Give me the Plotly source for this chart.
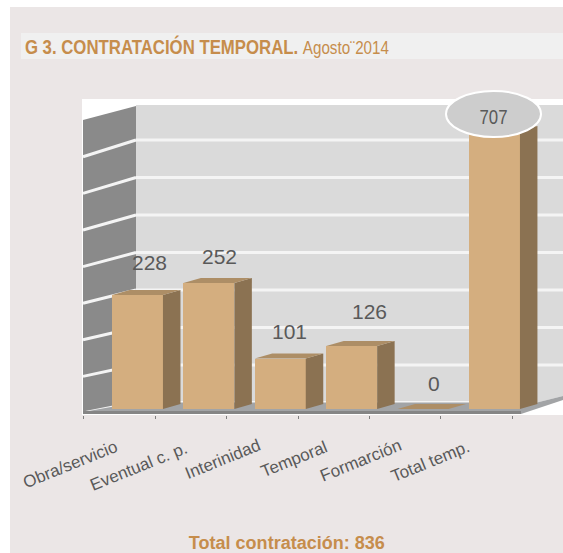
import json
import plotly.graph_objects as go

# ---- data
categories = ["Obra/servicio", "Eventual c. p.", "Interinidad", "Temporal", "Formarción", "Total temp."]
values = [228, 252, 101, 126, 0, 707]
total = 836
title_bold = "G 3. CONTRATACIÓN TEMPORAL."
title_light = "Agosto¨2014"
footer = f"Total contratación: {total}"
grid_values = [0, 75, 150, 225, 300, 375, 450, 525]

# ---- layout constants
W, H = 563, 553
PL, PR, PT, PB = 82, 563, 99, 415          # plot area in page pixels
X_RANGE = [-0.777, 5.96]
Y_RANGE = [-12, 620]
CAP = 556            # the source chart breaks the tallest bar behind its oval
BAR_W = 0.714
DEPTH_X, DEPTH_Y = 0.245, 10
label_dx = [12, 11, 9, 18, 11, -1]
label_dy = [33, 27, 27, 35, 26, 0]
cat_dx = [-67, -70, -58, -58, -62, -64]
cat_py = [464, 466, 459, 459, 461, 462]

BG, BAND = "#ebe6e6", "#f0f0f0"
GOLD, GREY = "#c68d4c", "#595959"
FRONT, SIDE, TOP = "#d4ae7f", "#8b7252", "#ad8e66"
WALL_L, WALL_B, FLOOR, EDGE, GRID = "#8a8a8a", "#dadada", "#a2a4a6", "#858585", "#f4f4f4"
SANS = "Liberation Sans"


def px(x):
    return (x - PL) / (PR - PL)


def py(y):
    return (PB - y) / (PB - PT)


def dx(x):
    return X_RANGE[0] + (x - PL) / (PR - PL) * (X_RANGE[1] - X_RANGE[0])


def dy(y):
    return Y_RANGE[0] + (PB - y) / (PB - PT) * (Y_RANGE[1] - Y_RANGE[0])


def poly(points):
    return "M" + " L".join(f"{a},{b}" for a, b in points) + " Z"


shapes = [
    dict(type="rect", xref="paper", yref="paper", x0=px(0), x1=px(W), y0=py(0), y1=py(H),
         fillcolor="white", line_width=0, layer="below"),
    dict(type="rect", xref="paper", yref="paper", x0=px(10), x1=px(W), y0=py(7), y1=py(H),
         fillcolor=BG, line_width=0, layer="below"),
    dict(type="rect", xref="paper", yref="paper", x0=px(21), x1=px(W), y0=py(33), y1=py(59),
         fillcolor=BAND, line_width=0, layer="below"),
    dict(type="rect", xref="paper", yref="paper", x0=px(PL), x1=px(PR), y0=py(PT), y1=py(PB),
         fillcolor="white", line_width=0, layer="below"),
]

# chamber: back wall, left wall, floor
wall_x_front, wall_x_back = dx(83), dx(136)
wall_x_corner = dx(537)
back_floor, back_top = dy(402.5), dy(105)
front_floor, left_top_front, left_top_back = dy(412), dy(120), dy(106)
shapes += [
    dict(type="path", path=poly([(wall_x_back, back_floor), (wall_x_corner, back_floor), (X_RANGE[1], dy(396)),
                                 (X_RANGE[1], back_top), (wall_x_back, back_top)]),
         fillcolor=WALL_B, line_width=0, layer="below"),
    dict(type="path", path=poly([(wall_x_front, front_floor), (wall_x_back, back_floor),
                                 (wall_x_back, left_top_back), (wall_x_front, left_top_front)]),
         fillcolor=WALL_L, line_width=0, layer="below"),
]
back_unit = dy(402.5)
for k, g in enumerate(grid_values):
    yb = back_unit + g
    yf = dy(413 - 36.6 * k)
    shapes.append(dict(type="line", x0=wall_x_back, x1=X_RANGE[1] if k else wall_x_corner, y0=yb, y1=yb,
                       line=dict(color=GRID, width=3), layer="below"))
    shapes.append(dict(type="line", x0=wall_x_front, x1=wall_x_back, y0=yf, y1=yb,
                       line=dict(color=GRID, width=3), layer="below"))
shapes += [
    dict(type="path", path=poly([(wall_x_front, front_floor), (wall_x_back, back_floor), (wall_x_corner, back_floor),
                                 (X_RANGE[1], dy(396)), (X_RANGE[1], dy(400)), (dx(521), dy(414)),
                                 (wall_x_front, dy(414))]),
         fillcolor=FLOOR, line_width=0, layer="below"),
    dict(type="path", path=poly([(wall_x_front, dy(411)), (dx(521), dy(411)), (dx(521), dy(414)),
                                 (wall_x_front, dy(414))]),
         fillcolor=EDGE, line_width=0, layer="below"),
]

# oval that hides the top of the broken bar
shapes.append(dict(type="circle", xref="paper", yref="paper", x0=px(446), x1=px(541), y0=py(137), y1=py(91),
                   fillcolor="#cdcdcd", line=dict(color="white", width=2), layer="above"))

fig = go.Figure()
positions = list(range(len(categories)))
heights = [min(v, CAP) for v in values]

fig.add_trace(go.Bar(x=positions, y=heights, width=BAR_W, marker=dict(color=FRONT, line_width=0),
                     hoverinfo="skip", showlegend=False))

for i, h in zip(positions, heights):
    xl, xr = i - BAR_W / 2, i + BAR_W / 2
    fig.add_trace(go.Scatter(x=[xr, xr + DEPTH_X, xr + DEPTH_X, xr, xr],
                             y=[0, DEPTH_Y, h + DEPTH_Y, h, 0], mode="lines", fill="toself",
                             fillcolor=SIDE, line=dict(width=0), hoverinfo="skip", showlegend=False))
    fig.add_trace(go.Scatter(x=[xl, xr, xr + DEPTH_X, xl + DEPTH_X, xl],
                             y=[h, h, h + DEPTH_Y, h + DEPTH_Y, h], mode="lines", fill="toself",
                             fillcolor=TOP, line=dict(width=0), hoverinfo="skip", showlegend=False))

annotations = []
for i, v, h, ox, oy in zip(positions, values, heights, label_dx, label_dy):
    if v > CAP:
        annotations.append(dict(x=px(493), y=py(117), xref="paper", yref="paper", text=str(v), showarrow=False,
                                xanchor="center", yanchor="middle",
                                font=dict(family=SANS, size=21, color=GREY)))
    else:
        annotations.append(dict(x=i, y=h, xref="x", yref="y", xshift=ox, yshift=oy, text=str(v), showarrow=False,
                                xanchor="center", yanchor="middle",
                                font=dict(family=SANS, size=21, color=GREY)))

for i, c, ox, yy in zip(positions, categories, cat_dx, cat_py):
    annotations.append(dict(x=i, xref="x", xshift=ox, y=py(yy), yref="paper", text=c, showarrow=False,
                            xanchor="center", yanchor="middle",
                            textangle=-22, font=dict(family=SANS, size=17, color=GREY)))

title_text = f'<b>{title_bold}</b> <span style="font-size:19px">{title_light}</span>'
annotations += [
    dict(x=px(207), y=py(46), xref="paper", yref="paper", xanchor="center", yanchor="middle", showarrow=False,
         text=title_text, font=dict(family=SANS, size=21, color=GOLD)),
    dict(x=px(287), y=py(543), xref="paper", yref="paper", xanchor="center", yanchor="middle", showarrow=False,
         text=footer, font=dict(family=SANS, size=18, weight="bold", color=GOLD)),
]

fig.update_layout(
    width=W, height=H, autosize=False,
    margin=dict(l=PL, r=W - PR, t=PT, b=H - PB, autoexpand=False),
    paper_bgcolor="white", plot_bgcolor="white",
    shapes=shapes, annotations=annotations, bargap=0,
    xaxis=dict(range=X_RANGE, showgrid=False, zeroline=False, showline=False,
               tickmode="array", tickvals=[p - 0.75 for p in range(len(categories) + 1)],
               ticktext=[""] * (len(categories) + 1),
               ticks="outside", ticklen=3, tickwidth=1, tickcolor="#7f7f7f", fixedrange=True),
    yaxis=dict(range=Y_RANGE, showgrid=False, zeroline=False, showline=False, showticklabels=False,
               ticks="", fixedrange=True),
)

# the source uses a condensed face; none is installed, so the same glyphs are narrowed to its widths
fit = {f"{title_bold} {title_light}": 364, footer: 196, "707": 28}
post = ("document.body.style.margin='0';var fit=" + json.dumps(fit, ensure_ascii=False) + ";"
        "document.querySelectorAll('text.annotation-text').forEach(function(t){var w=fit[t.textContent];"
        "if(w){t.setAttribute('textLength',w);t.setAttribute('lengthAdjust','spacingAndGlyphs');}});")
fig.write_html("out.html", config=dict(displayModeBar=False), post_script=post)
